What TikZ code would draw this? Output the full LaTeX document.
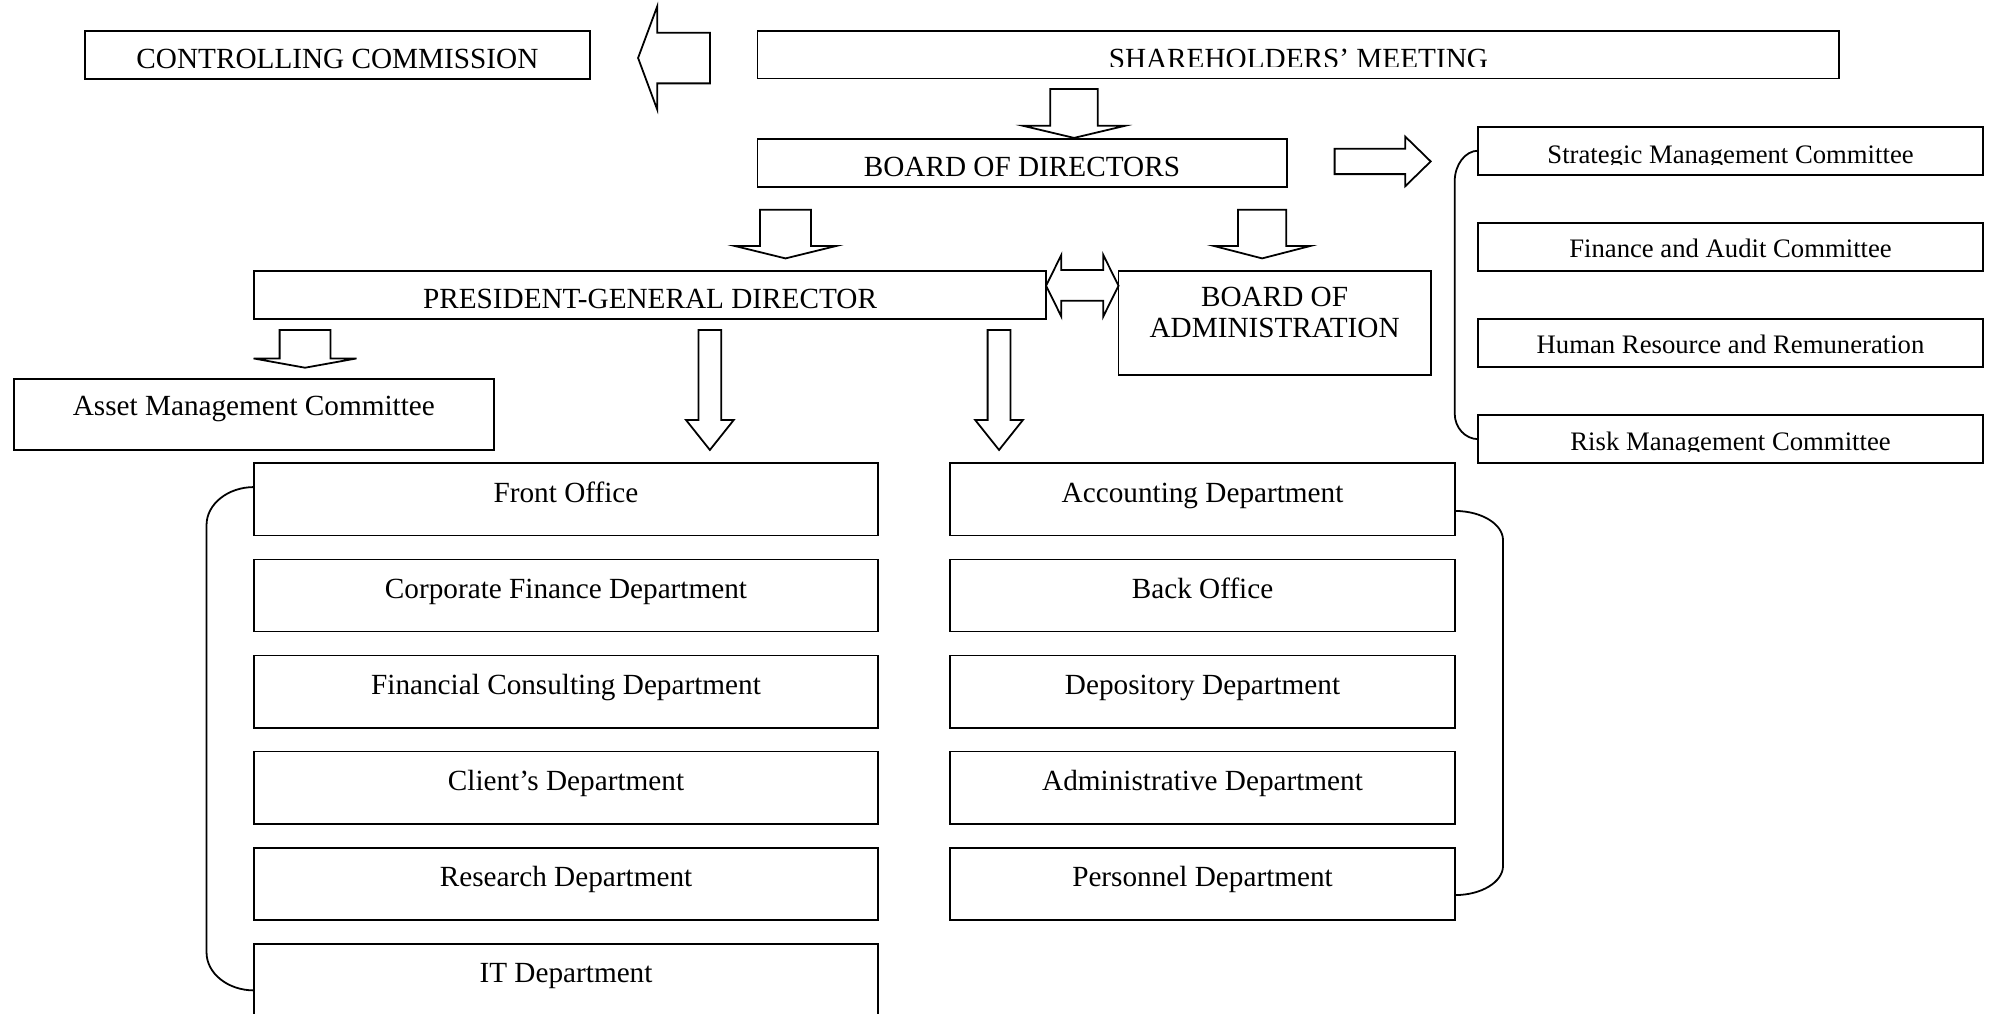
\documentclass[tikz,border=0pt]{standalone}
\usepackage{fontspec}
\setmainfont{Liberation Serif}
\usetikzlibrary{calc,fit}
\newcommand\mybox[5]{\node[box, fit={(#2,#3) (#4,#5)}] (#1) {};}
\newcommand\dnarrow[6]{\draw[blk] ({#1-#5},#2) -- ({#1+#5},#2) -- ({#1+#5},#3) -- ({#1+#6},#3) -- (#1,#4) -- ({#1-#6},#3) -- ({#1-#5},#3) -- cycle;}
\begin{document}
\begin{tikzpicture}[x=0.5pt,y=-0.5pt, line width=0.7pt,
  box/.style={draw, rectangle, inner sep=0pt, outer sep=0pt},
  lbl/.style={anchor=base, inner sep=0pt, font=\fontsize{11.5}{13}\selectfont},
  slbl/.style={anchor=base, inner sep=0pt, font=\fontsize{10.5}{12}\selectfont},
  blk/.style={draw, fill=white, line join=miter}]
\useasboundingbox (0,0) rectangle (1568,797);
\fill[white] (0,0) rectangle (1568,797);

% boxes
\mybox{cc}{66.9}{24.4}{464}{62.2}
\mybox{sh}{596}{24.4}{1447}{61.8}
\mybox{bod}{596}{109.6}{1012.5}{146.9}
\mybox{strat}{1163}{99.7}{1560}{137.4}
\mybox{fin}{1163}{175.7}{1560}{213.2}
\mybox{hr}{1163}{251.2}{1560}{289}
\mybox{risk}{1163}{326.8}{1560}{364.2}
\mybox{pgd}{199.7}{213}{823}{251.2}
\mybox{boa}{880}{213.2}{1125.6}{295}
\mybox{asset}{11}{298}{388.5}{354}
% left column
\mybox{fo}{199.8}{364.5}{690.8}{421.3}
\mybox{cf}{199.8}{440.1}{690.8}{496.9}
\mybox{fc}{199.8}{515.7}{690.8}{572.5}
\mybox{cl}{199.8}{591.3}{690.8}{648.1}
\mybox{rd}{199.8}{666.9}{690.8}{723.7}
\mybox{it}{199.8}{742.5}{690.8}{799.3}
% right column
\mybox{acc}{747.4}{364.5}{1144.8}{421.3}
\mybox{bo}{747.4}{440.1}{1144.8}{496.9}
\mybox{dep}{747.4}{515.7}{1144.8}{572.5}
\mybox{adm}{747.4}{591.3}{1144.8}{648.1}
\mybox{per}{747.4}{666.9}{1144.8}{723.7}

% texts
\node[lbl] (cc-t) at (265.5,53.8) {CONTROLLING COMMISSION};
\begin{scope}
\clip (596,24.4) rectangle (1447,52.5);
\node[lbl] (sh-t) at (1021.5,53.8) {SHAREHOLDERS’ MEETING};
\end{scope}
\node[lbl] (bod-t) at (804,139) {BOARD OF DIRECTORS};
\begin{scope}
\clip (1163,99.7) rectangle (1560,129.5);
\node[slbl] (strat-t) at (1361.5,128.3) {Strategic Management Committee};
\end{scope}
\node[slbl] (fin-t) at (1361.5,202.7) {Finance and Audit Committee};
\node[slbl] (hr-t) at (1361.5,278.4) {Human Resource and Remuneration};
\begin{scope}
\clip (1163,326.8) rectangle (1560,355);
\node[slbl] (risk-t) at (1361.5,354.6) {Risk Management Committee};
\end{scope}
\node[lbl] (pgd-t) at (511.4,242.6) {PRESIDENT-GENERAL DIRECTOR};
\node[lbl] (boa-t1) at (1002.8,241.3) {BOARD OF};
\node[lbl] (boa-t2) at (1002.8,265.4) {ADMINISTRATION};
\node[lbl] (asset-t) at (199.7,327) {Asset Management Committee};

\node[lbl] (fo-t) at (445.3,395) {Front Office};
\node[lbl] (cf-t) at (445.3,470.6) {Corporate Finance Department};
\node[lbl] (fc-t) at (445.3,546.2) {Financial Consulting Department};
\node[lbl] (cl-t) at (445.3,621.8) {Client’s Department};
\node[lbl] (rd-t) at (445.3,697.4) {Research Department};
\node[lbl] (it-t) at (445.3,773) {IT Department};

\node[lbl] (acc-t) at (946.1,395) {Accounting Department};
\node[lbl] (bo-t) at (946.1,470.6) {Back Office};
\node[lbl] (dep-t) at (946.1,546.2) {Depository Department};
\node[lbl] (adm-t) at (946.1,621.8) {Administrative Department};
\node[lbl] (per-t) at (946.1,697.4) {Personnel Department};

% block arrows
\draw[blk] (502,45.6) -- (517,5.2) -- (517,25.7) -- (558.6,25.7) -- (558.6,65.6) -- (517,65.6) -- (517,86) -- cycle;
\draw[blk] (1050,117) -- (1105.6,117) -- (1105.6,107.5) -- (1125.6,127) -- (1105.6,146.5) -- (1105.6,137) -- (1050,137) -- cycle;
\draw[blk] (823,224.8) -- (835,200.6) -- (835,212.4) -- (868,212.4) -- (868,200.6) -- (880,224.8) -- (868,249) -- (868,236.6) -- (835,236.6) -- (835,249) -- cycle;
\dnarrow{845}{70}{99}{108.5}{18.7}{40}
\dnarrow{618}{165}{193.5}{203.3}{20}{40}
\dnarrow{993}{165}{193.5}{203.3}{19}{38}
\dnarrow{240}{259.6}{282}{289.3}{20}{40.5}
\dnarrow{558.5}{259.6}{330.4}{354}{9}{18.8}
\dnarrow{786}{259.6}{330.4}{354}{9}{18.8}

% brackets
\coordinate (lb1) at ($(fo.west)+(0,-9.7)$);
\coordinate (lb2) at ($(it.west)+(0,8.3)$);
\draw (lb1) .. controls +(-20.5,0) and +(0,-16.4) .. ($(lb1)+(-37.3,29.8)$) -- ($(lb2)+(-37.3,-29.8)$) .. controls +(0,16.4) and +(-20.5,0) .. (lb2);
\coordinate (rb1) at ($(acc.east)+(0,9.1)$);
\coordinate (rb2) at ($(per.east)+(0,8.9)$);
\draw (rb1) .. controls +(20.7,0) and +(0,-12.7) .. ($(rb1)+(37.7,23)$) -- ($(rb2)+(37.7,-23)$) .. controls +(0,12.7) and +(20.7,0) .. (rb2);
\draw (strat.west) .. controls +(-10.2,0) and +(0,-13) .. ($(strat.west)+(-18.5,24)$) -- ($(risk.west)+(-18.5,-20)$) .. controls +(0,11) and +(-10.2,0) .. (risk.west);
\end{tikzpicture}
\end{document}
